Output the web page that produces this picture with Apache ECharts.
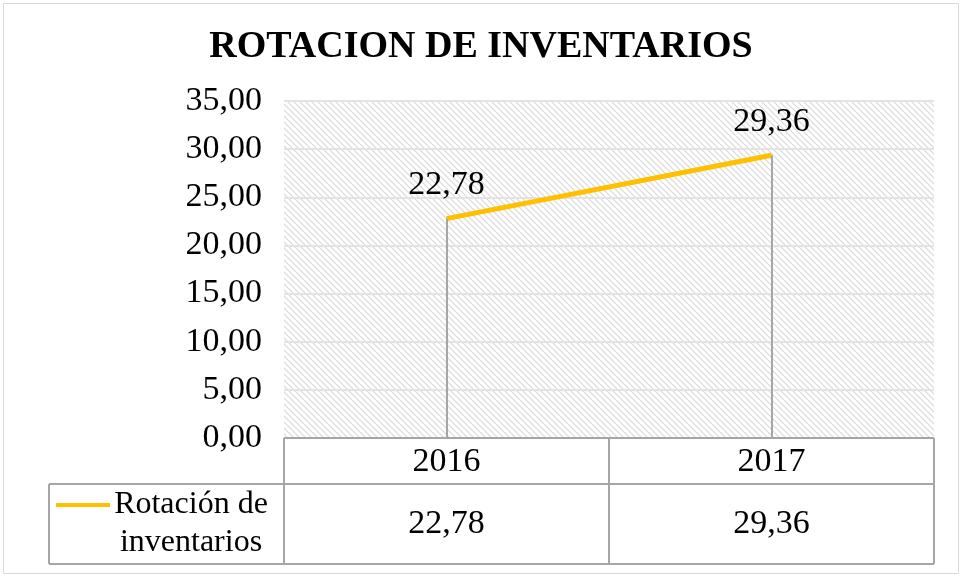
<!DOCTYPE html>
<html>
<head>
<meta charset="utf-8">
<title>Rotacion de inventarios</title>
<script src="https://cdn.jsdelivr.net/npm/echarts@6/dist/echarts.min.js"></script>
<style>
  html, body { margin: 0; padding: 0; background: #fff; }
  #chart { width: 962px; height: 577px; }
</style>
</head>
<body>
<div id="chart"></div>
<script>
// datos del grafico
const titulo = 'ROTACION DE INVENTARIOS'
const anios = ['2016', '2017']
const serieNombre = 'Rotación de inventarios'
const rotacion = [22.78, 29.36]
const ejeY = { min: 0, max: 35, interval: 5 }

const FONT = '"Liberation Serif", "Times New Roman", serif'
const TAM = 34
const GRIS = '#a6a6a6'
const fmt = v => Number(v).toFixed(2).replace('.', ',')

/* patron rayado del area de trazado */
function patronRayas() {
  const c = document.createElement('canvas')
  c.width = 6
  c.height = 6
  const ctx = c.getContext('2d')
  ctx.strokeStyle = '#d9d9d9'
  ctx.lineWidth = 1.2
  ctx.beginPath()
  ctx.moveTo(0, 0); ctx.lineTo(6, 6)
  ctx.moveTo(-3, 3); ctx.lineTo(3, 9)
  ctx.moveTo(3, -3); ctx.lineTo(9, 3)
  ctx.stroke()
  return { image: c, repeat: 'repeat' }
}

const myChart = echarts.init(document.getElementById('chart'))

myChart.setOption({
  animation: false,
  title: {
    text: titulo,
    left: 'center',
    top: 23,
    textStyle: { fontFamily: FONT, fontSize: 38, fontWeight: 'bold', color: '#000' }
  },
  grid: {
    left: 284, right: 28, top: 101, bottom: 139,
    show: true,
    borderWidth: 0,
    backgroundColor: patronRayas()
  },
  xAxis: {
    type: 'category',
    data: anios,
    boundaryGap: true,
    axisLine: { show: false },
    axisTick: { show: false },
    axisLabel: { show: false }
  },
  yAxis: {
    type: 'value',
    min: ejeY.min,
    max: ejeY.max,
    interval: ejeY.interval,
    axisLabel: {
      formatter: fmt,
      fontFamily: FONT,
      fontSize: TAM,
      color: '#000',
      margin: 22
    },
    splitLine: { lineStyle: { color: '#e3e3e3', width: 2 } }
  },
  series: [{
    name: serieNombre,
    type: 'line',
    data: rotacion,
    symbol: 'circle',
    symbolSize: 1,
    showSymbol: true,
    lineStyle: { color: '#ffc000', width: 5 },
    itemStyle: { color: '#ffc000' },
    label: {
      show: true,
      position: 'top',
      distance: 16,
      formatter: p => fmt(p.value),
      fontFamily: FONT,
      fontSize: TAM,
      color: '#000'
    },
    markLine: {
      silent: true,
      symbol: 'none',
      label: { show: false },
      lineStyle: { color: GRIS, width: 2, type: 'solid' },
      data: rotacion.map((v, i) => [{ coord: [i, v] }, { coord: [i, 0] }])
    },
    z: 3
  }]
})

/* tabla de datos bajo el eje */
function dibujarTabla() {
  const x0 = myChart.convertToPixel({ gridIndex: 0 }, [0, 0])
  const y0 = x0[1]
  const paso = myChart.convertToPixel({ xAxisIndex: 0 }, 1) - myChart.convertToPixel({ xAxisIndex: 0 }, 0)
  const izq = x0[0] - paso / 2
  const der = izq + paso * anios.length
  const fila1 = y0 + 46
  const fila2 = fila1 + 80
  const leyIzq = 49
  const linea = { stroke: GRIS, lineWidth: 2 }
  const els = []

  const seg = (x1, y1, x2, y2) => els.push({
    type: 'line', silent: true, z: 10,
    shape: { x1, y1, x2, y2 }, style: linea
  })
  const txt = (x, y, text) => els.push({
    type: 'text', silent: true, z: 10, x, y,
    style: { text, font: TAM + 'px ' + FONT, fill: '#000', align: 'center', verticalAlign: 'middle' }
  })

  // bordes
  seg(izq, y0, der, y0)
  seg(leyIzq, fila1, der, fila1)
  seg(leyIzq, fila2, der, fila2)
  seg(leyIzq, fila1, leyIzq, fila2)
  for (let i = 0; i <= anios.length; i++) seg(izq + paso * i, y0, izq + paso * i, fila2)

  anios.forEach((a, i) => {
    const cx = myChart.convertToPixel({ xAxisIndex: 0 }, i)
    txt(cx, (y0 + fila1) / 2 + 1, a)
    txt(cx, (fila1 + fila2) / 2, fmt(rotacion[i]))
  })

  // clave de leyenda
  els.push({
    type: 'line', silent: true, z: 10,
    shape: { x1: 56, y1: 505, x2: 110, y2: 505 },
    style: { stroke: '#ffc000', lineWidth: 4 }
  })
  els.push({
    type: 'text', silent: true, z: 10, x: 191, y: (fila1 + fila2) / 2,
    style: {
      text: 'Rotación de\ninventarios', font: '32px ' + FONT, fill: '#000',
      align: 'center', verticalAlign: 'middle', lineHeight: 38
    }
  })

  // borde del grafico
  els.push({
    type: 'rect', silent: true, z: 0,
    shape: { x: 3.5, y: 3.5, width: 955, height: 570 },
    style: { fill: null, stroke: '#d9d9d9', lineWidth: 1 }
  })

  myChart.setOption({ graphic: els })
}

dibujarTabla()
</script>
</body>
</html>
